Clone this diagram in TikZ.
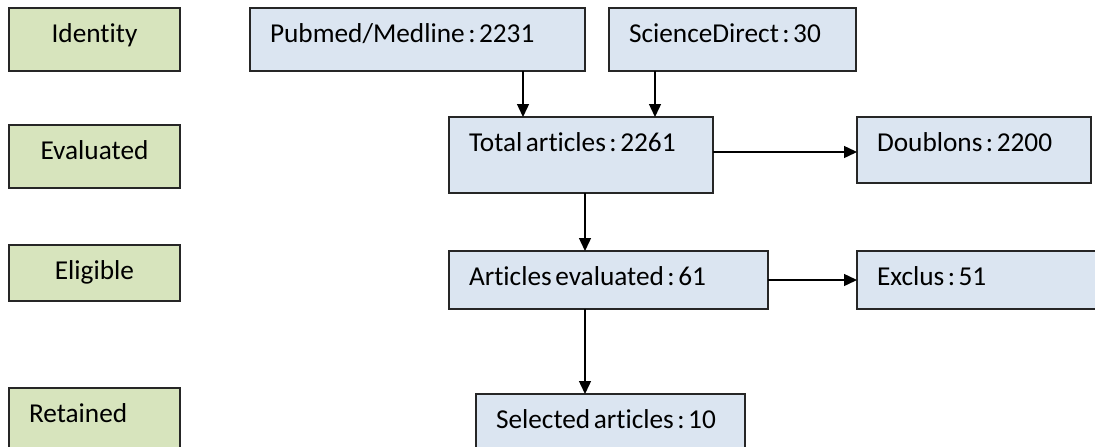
\documentclass[tikz,border=0pt]{standalone}
\usepackage{fontspec}
\setmainfont[Ligatures={NoCommon,NoRequired}]{Carlito}
\usetikzlibrary{arrows.meta}
\definecolor{bluefill}{HTML}{DBE5F1}
\definecolor{greenfill}{HTML}{D7E4BD}
\definecolor{linecol}{HTML}{262626}
\newcommand\myboxfont{\fontsize{27.3}{31}\selectfont}
\newcommand\hs{\hspace{3.5pt}}
\begin{document}
\begin{tikzpicture}[x=1pt,y=-1pt,
  basebox/.style={draw=linecol, line width=1.6pt, anchor=north west, inner xsep=20pt, inner ysep=0pt, outer sep=0pt, text height=34pt, font=\myboxfont, text=black},
  bluebox/.style={basebox, fill=bluefill, align=left},
  greenbox/.style={basebox, fill=greenfill, align=center},
  arr/.style={draw=black, line width=1.4pt, -{Triangle[length=13pt,width=12pt]}}
]
\useasboundingbox (0,0) rectangle (1095,447);
% stage labels
\node[greenbox, text width=131pt, text depth=29pt] (identity) at (9,8) {Identity};
\node[greenbox, text width=131pt, text depth=29pt] (evaluated) at (9,125) {Evaluated};
\node[greenbox, text width=131pt, text depth=22pt] (eligible) at (9,245) {Eligible};
\node[greenbox, align=left, text width=131pt, text depth=26pt] (retained) at (9,388) {Retained};
% flow boxes
\node[bluebox, text width=295pt, text depth=29pt] (pub) at (250,8) {\mbox{Pubmed/Medline\hs:\hs2231}};
\node[bluebox, text width=207pt, text depth=29pt] (sci) at (609,8) {\mbox{ScienceDirect\hs:\hs30}};
\node[bluebox, text width=224pt, text depth=42pt] (tot) at (449,117) {\mbox{Total\hs articles\hs:\hs2261}};
\node[bluebox, text width=194pt, text depth=32pt] (dou) at (857,117) {\mbox{Doublons\hs:\hs2200}};
\node[bluebox, text width=279pt, text depth=24pt] (art) at (449,251) {\mbox{Articles\hs evaluated\hs:\hs61}};
\node[bluebox, text width=201pt, text depth=24pt] (exc) at (857,251) {\mbox{Exclus\hs:\hs51}};
\node[bluebox, text width=229pt, text depth=20pt] (sel) at (476,394) {\mbox{Selected\hs articles\hs:\hs10}};
% connectors
\draw[arr] ([xshift=105.5pt]pub.south) coordinate (p1) -- (p1 |- tot.north);
\draw[arr] ([xshift=-77.5pt]sci.south) coordinate (s1) -- (s1 |- tot.north);
\draw[arr] ([xshift=4pt]tot.south) coordinate (t1) -- (t1 |- art.north);
\draw[arr] ([xshift=-23.5pt]art.south) coordinate (a1) -- (a1 |- sel.north);
\draw[arr] ([yshift=3pt]tot.east) coordinate (t2) -- (dou.west |- t2);
\draw[arr] (art.east) -- (exc.west |- art.east);
\end{tikzpicture}
\end{document}
